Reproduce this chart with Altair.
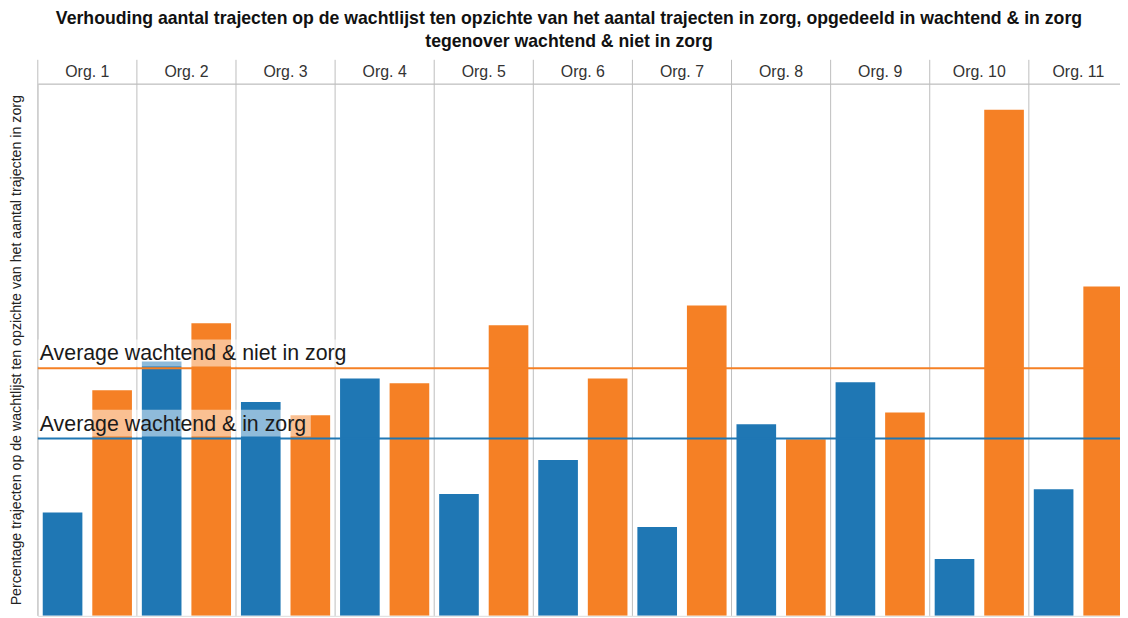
import altair as alt
import pandas as pd

# ---- data ----
orgs = ["Org. 1", "Org. 2", "Org. 3", "Org. 4", "Org. 5", "Org. 6",
        "Org. 7", "Org. 8", "Org. 9", "Org. 10", "Org. 11"]
series = ["wachtend & in zorg", "wachtend & niet in zorg"]
in_zorg = [19.4, 47.8, 40.2, 44.6, 22.9, 29.3, 16.7, 36.0, 43.9, 10.7, 23.8]
niet_in_zorg = [42.4, 55.0, 37.7, 43.7, 54.6, 44.6, 58.3, 33.2, 38.2, 95.1, 61.9]
avg_values = [33.3, 46.5]
avg_labels = ["Average wachtend & in zorg", "Average wachtend & niet in zorg"]

title_lines = [
    "Verhouding aantal trajecten op de wachtlijst ten opzichte van het aantal trajecten in zorg, opgedeeld in wachtend & in zorg",
    "tegenover wachtend & niet in zorg",
]
y_title = "Percentage trajecten op de wachtlijst ten opzichte van het aantal trajecten in zorg"

colors = ["#1f77b4", "#f58025"]
FONT = "Liberation Sans"
GRID = "#bdbdbd"
W, H = 1090, 536

bars_df = pd.DataFrame({
    "Org": orgs * 2,
    "Series": [series[0]] * len(orgs) + [series[1]] * len(orgs),
    "Value": in_zorg + niet_in_zorg,
})
org_df = pd.DataFrame({"Org": orgs})
avg_df = pd.DataFrame({"Series": series, "Value": avg_values, "Label": avg_labels})

color_scale = alt.Scale(domain=series, range=colors)
y_scale = alt.Scale(domain=[0, 100], nice=False)
# last column runs past the right edge, as in the original crop
x_scale = alt.Scale(paddingInner=0, paddingOuter=0, rangeMax=1098)
x_axis = alt.Axis(orient="top", title=None, labelAngle=0,
                  labelFont=FONT, labelFontSize=16, labelColor="#333333",
                  labelBaseline="alphabetic", labelPadding=7,
                  ticks=False, grid=False, domain=True, domainColor=GRID)

# column separators (extending up through the header row)
seps = alt.Chart(org_df).mark_rule(color=GRID, strokeWidth=1).encode(
    x=alt.X("Org:N", sort=orgs, bandPosition=0, scale=x_scale, axis=x_axis),
    y=alt.value(-24), y2=alt.value(H),
)

bars = alt.Chart(bars_df).mark_bar(clip=True).encode(
    x=alt.X("Org:N", sort=orgs, scale=x_scale, axis=x_axis),
    xOffset=alt.XOffset("Series:N", sort=series,
                        scale=alt.Scale(paddingInner=0.2, paddingOuter=0.1)),
    y=alt.Y("Value:Q", scale=y_scale,
            axis=alt.Axis(title=y_title, titleFont=FONT, titleFontSize=14.3,
                          titleFontWeight="normal", titleColor="#222222",
                          titlePadding=14, labels=False, ticks=False,
                          domain=False, grid=False)),
    color=alt.Color("Series:N", scale=color_scale, legend=None),
)

rules = alt.Chart(avg_df).mark_rule(strokeWidth=2).encode(
    y=alt.Y("Value:Q", scale=y_scale),
    color=alt.Color("Series:N", scale=color_scale, legend=None),
)

bg_in = alt.Chart(avg_df).transform_filter(
    alt.datum.Series == series[0]
).mark_rect(color="white", opacity=0.5, yOffset=-2, y2Offset=-29).encode(
    x=alt.value(0), x2=alt.value(275),
    y=alt.Y("Value:Q", scale=y_scale), y2=alt.Y2("Value"),
)
bg_niet = alt.Chart(avg_df).transform_filter(
    alt.datum.Series == series[1]
).mark_rect(color="white", opacity=0.5, yOffset=-2, y2Offset=-29).encode(
    x=alt.value(0), x2=alt.value(315),
    y=alt.Y("Value:Q", scale=y_scale), y2=alt.Y2("Value"),
)

labels = alt.Chart(avg_df).mark_text(
    align="left", baseline="alphabetic", dx=2, dy=-8,
    font=FONT, fontSize=21.5, color="#1a1a1a",
).encode(
    x=alt.value(0),
    y=alt.Y("Value:Q", scale=y_scale),
    text="Label:N",
)

chart = alt.layer(seps, bars, rules, bg_in, bg_niet, labels).properties(
    width=W,
    height=H,
    title=alt.TitleParams(text=title_lines, font=FONT, fontSize=17.8,
                          fontWeight="bold", color="#111111",
                          anchor="middle", frame="bounds",
                          lineHeight=22.5, offset=9),
    autosize=alt.AutoSizeParams(type="none"),
    padding={"left": 30, "top": 74, "right": 0, "bottom": 0},
).configure_view(stroke=None).configure(background="white")

chart.save("out.html", embed_options={"renderer": "svg", "actions": False})
